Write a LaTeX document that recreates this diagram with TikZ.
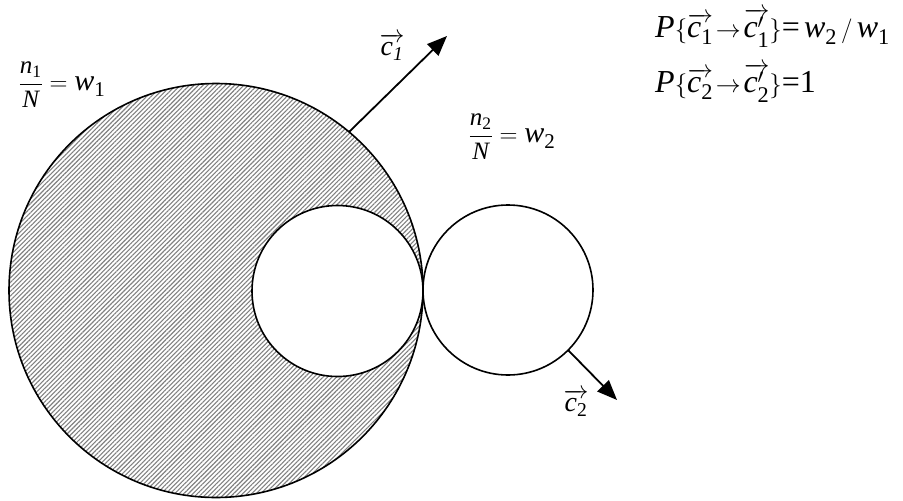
\documentclass[tikz,border=0pt]{standalone}
\usepackage{amsmath}
\usepackage{fontspec}
\setmainfont{Liberation Serif}
\usetikzlibrary{patterns.meta,arrows.meta}
\newcommand\I[1]{\text{\itshape #1}}
\newcommand\R[1]{\text{\upshape #1}}
\newcommand\fsz[1]{\fontsize{#1pt}{#1pt}\selectfont}
\newcommand\fr[2]{\dfrac{\text{\fsz{25}$#1$}}{\text{\fsz{25}$#2$}}}
\begin{document}
\begin{tikzpicture}[x=1pt,y=-1pt,
  ring/.style={draw=black,line width=1.6pt,circle,inner sep=0pt,outer sep=0pt},
  vec/.style={line width=1.8pt,-{Triangle[length=20pt,width=16pt]}},
  lab/.style={inner sep=0pt,font=\fsz{30}},
  arlab/.style={inner sep=0pt,font=\fsz{28}},
  eqn/.style={inner sep=0pt,anchor=west,font=\fsz{32}}]
\useasboundingbox (0,0) rectangle (903,501);
% hatched crescent
\fill[even odd rule,pattern={Lines[angle=45,distance=3.2pt,line width=1.1pt]},pattern color=black!50]
  (216,290.5) circle[radius=207] (337.5,291) circle[radius=85.5];
\node[ring,minimum size=414pt] (big) at (216,290.5) {};
\node[ring,minimum size=171pt] (inner) at (337.5,291) {};
\node[ring,minimum size=170pt] (right) at (508,290) {};
\coordinate (t1) at (447,36);
\coordinate (t2) at (617,400);
\draw[vec] (big.50) -- (t1);
\draw[vec] (right.-45) -- (t2);
\node[arlab] (l1) at (392,47) {$\overrightarrow{\I{c}_{\I{1}}}$};
\node[arlab] (l2) at (576,403) {$\overrightarrow{\I{c}_{\R{2}}}$};
\node[lab] (f1) at (62,85) {$\fr{\I{n}_{\R{1}}}{\I{N}}=\I{w}_{\R{1}}$};
\node[lab] (f2) at (512,137) {$\fr{\I{n}_{\R{2}}}{\I{N}}=\I{w}_{\R{2}}$};
\node[eqn] (e1) at (655,28) {$\I{P}\{\overrightarrow{\I{c}_{\R{1}}}\!\rightarrow\!\overrightarrow{\I{c}'_{\R{1}}}\}\R{=}\,\I{w}_{\R{2}}\,/\,\I{w}_{\R{1}}$};
\node[eqn] (e2) at (655,83) {$\I{P}\{\overrightarrow{\I{c}_{\R{2}}}\!\rightarrow\!\overrightarrow{\I{c}'_{\R{2}}}\}\R{=}\R{1}$};
\end{tikzpicture}
\end{document}
